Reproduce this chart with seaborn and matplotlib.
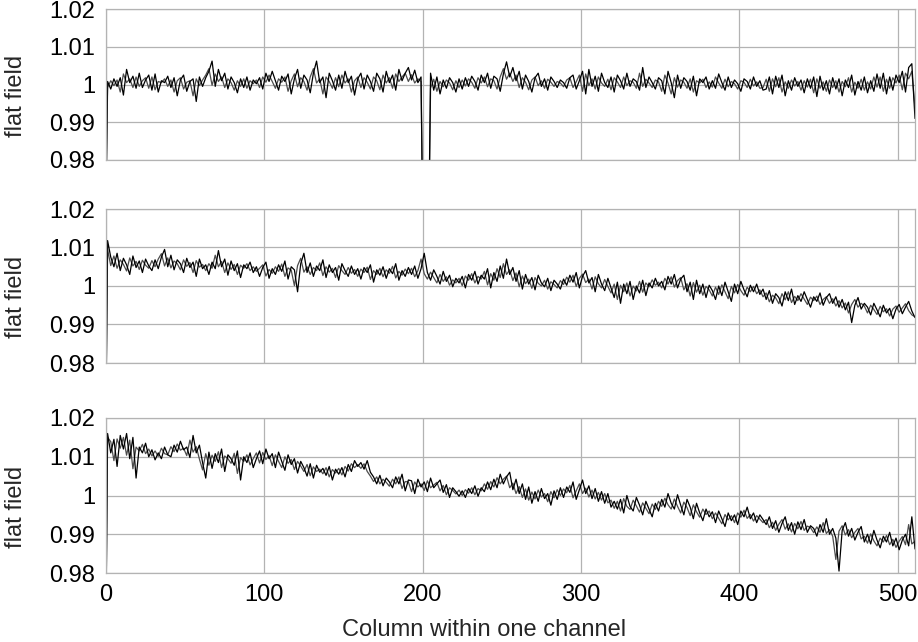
import numpy as np
import pandas as pd
import matplotlib
matplotlib.use("Agg")
import matplotlib.pyplot as plt
import seaborn as sns

# ---------------- data (every 2nd column) ----------------
# flat-field values stored as deviation from 1 in units of 1e-4
columns = [0] + list(range(1, 512, 2))

panel1_a = [-300,
    8, -12, 15, -5, 18, -28, 40, 5, 22, -10, 30, -8, 12, 25, -15, 28,
    -20, 10, 5, 22, -8, 18, -30, 12, 25, -18, 8, 15, -45, 20, -5, 18,
    35, 62, -5, 40, 10, 30, -12, 20, 5, -22, 15, -8, 20, -15, 12, 2,
    18, -12, 30, 8, 35, 10, -15, 22, 8, 28, -25, 15, 40, -10, 25, 12,
    -22, 30, 62, 5, 20, -35, 30, 10, -15, 25, -10, 35, 5, 22, -28, 15,
    30, -12, 25, 8, -18, 30, 15, -20, 35, 5, 25, -15, 40, 10, 30, 45,
    12, 38, 5, 20, -700, -700, 30, -15, 20, -25, 12, -10, 18, 5, -20, 15,
    -12, 18, -5, 22, 8, -15, 25, 5, 30, -10, 22, 15, -18, 28, 60, 20,
    45, 10, 35, -12, 25, 8, -20, 18, 30, -5, 15, -15, 20, 8, -8, 12,
    5, -10, 18, 25, -12, 10, 35, -25, 40, -5, 22, -18, 30, 5, -8, 20,
    -20, 25, 10, -12, 30, -5, 15, 8, -15, 45, -8, 20, 5, -12, 18, 10,
    -25, 35, 5, -35, 25, -10, 18, 8, -15, 22, -30, 15, 5, 20, -12, 10,
    -10, 28, 5, -15, 20, -8, 12, 2, -18, 15, 8, -12, 20, -5, 10, -15,
    -12, 20, -25, 22, -8, 25, -30, 10, -15, 18, -5, 12, -22, 15, -10, 20,
    -32, 22, -15, 10, -25, 18, -12, 15, -30, 12, -8, 25, -28, 8, -15, 20,
    -22, 10, -18, 28, -10, 30, -25, 20, -15, 25, 5, 35, -20, 45, 55, -90]

panel1_b = [-300,
    -8, 10, -3, 12, -20, 28, 5, 15, -8, 20, -5, 10, 18, -10, 20, -14,
    8, 5, 15, -5, 12, -20, 10, 18, -12, 6, 10, -30, 15, -3, 12, 25,
    42, -2, 28, 8, 20, -8, 15, 5, -15, 10, -5, 15, -10, 10, 2, 12,
    -8, 20, 6, 25, 8, -10, 15, 6, 20, -18, 10, 28, -6, 18, 8, -15,
    20, 42, 4, 15, -25, 20, 8, -10, 18, -6, 25, 4, 15, -20, 10, 20,
    -8, 18, 6, -12, 20, 10, -14, 25, 4, 18, -10, 28, 8, 20, 30, 8,
    26, 4, 15, 8, -700, -700, -10, 14, -18, 8, -6, 12, 4, -14, 10, -8,
    12, -4, 15, 6, -10, 18, 4, 20, -6, 15, 10, -12, 20, 42, 14, 30,
    8, 25, -8, 18, 6, -14, 12, 20, -3, 10, -10, 14, 6, -5, 8, 4,
    -6, 12, 18, -8, 7, 25, -18, 28, -3, 15, -12, 20, 4, -5, 14, -14,
    18, 7, -8, 20, -3, 10, 6, -10, 30, -5, 14, 4, -8, 12, 7, -18,
    25, 4, -25, 18, -7, 12, 6, -10, 15, -20, 10, 4, 14, -8, 7, -7,
    20, 4, -10, 14, -6, 8, 2, -12, 10, 6, -8, 14, -4, 7, -10, -8,
    14, -18, 15, -6, 18, -20, 7, -10, 12, -4, 8, -15, 10, -7, 14, -22,
    15, -10, 7, -18, 12, -8, 10, -20, 8, -6, 18, -20, 6, -10, 14, -15,
    7, -12, 20, -7, 20, -18, 14, -10, 18, 4, 25, -14, 30, 15, 35, -60]

panel2_a = [-300,
    118, 75, 50, 85, 40, 72, 55, 30, 78, 48, 65, 35, 70, 52, 40, 68,
    45, 75, 95, 50, 80, 42, 68, 58, 35, 72, 48, 62, 25, 70, 45, 55,
    30, 62, 45, 92, 50, 70, 28, 65, 40, 58, 22, 55, 45, 62, 35, 50,
    25, 48, 62, 20, 45, 30, 55, 38, 65, 18, 50, 42, -15, 58, 85, 35,
    60, 25, 52, 40, 68, 22, 55, 35, 48, 15, 58, 40, 25, 52, 30, 45,
    18, 48, 35, 55, 10, 42, 28, 50, 20, 45, 32, 58, 15, 40, 25, 48,
    30, 52, 20, 45, 85, 35, 15, 42, 25, 5, 38, 12, 28, -2, 20, 8,
    25, -5, 30, 15, 38, 5, 28, 18, 45, -5, 35, 12, 52, 20, 70, 30,
    48, 12, 40, -8, 30, 5, 22, -10, 28, 8, -2, 20, -12, 15, 5, -8,
    18, 2, 28, 10, 35, -5, 25, 40, 8, 22, -15, 30, 5, -12, 20, -5,
    -30, 10, -45, 5, -20, 12, -35, 0, -18, 15, -25, 8, -5, 20, 0, 12,
    -10, 25, 5, 30, -5, 18, 28, -15, 10, -35, 15, -20, 5, -30, 2, -12,
    -35, 0, -25, 10, -15, -40, 5, -20, 12, -10, -28, 2, -15, 5, -22, -8,
    -35, -12, -45, -20, -30, -52, -15, -38, -8, -48, -25, -40, -15, -35, -55, -28,
    -40, -18, -50, -30, -20, -45, -28, -55, -35, -62, -42, -95, -50, -30, -60, -45,
    -55, -75, -45, -62, -80, -50, -70, -58, -85, -60, -48, -72, -55, -40, -65, -82]

panel2_b = [-300,
    95, 53, 78, 46, 68, 56, 39, 73, 52, 64, 43, 67, 54, 46, 66, 50,
    70, 84, 52, 73, 47, 65, 58, 42, 68, 51, 61, 35, 66, 49, 56, 40,
    58, 46, 80, 50, 64, 35, 60, 43, 56, 30, 54, 46, 58, 40, 50, 38,
    46, 55, 26, 43, 33, 50, 38, 57, 25, 47, 41, 1, 53, 72, 36, 50,
    30, 48, 40, 60, 27, 50, 36, 46, 22, 53, 40, 30, 48, 33, 43, 25,
    44, 35, 49, 17, 40, 30, 46, 24, 42, 33, 51, 21, 38, 28, 44, 32,
    46, 24, 40, 70, 32, 18, 36, 22, 8, 30, 12, 24, 2, 16, 8, 20,
    1, 26, 15, 32, 8, 25, 18, 38, 3, 32, 15, 45, 22, 58, 30, 42,
    14, 34, -2, 26, 6, 18, -6, 22, 7, 0, 15, -8, 11, 4, -5, 14,
    4, 23, 10, 28, -1, 20, 31, 9, 18, -8, 24, 6, -5, 17, -1, -18,
    5, -35, 2, -15, 8, -26, 0, -13, 12, -16, 8, -2, 16, 2, 10, -5,
    20, 5, 24, -3, 14, 22, -10, 6, -26, 9, -16, 2, -24, -1, -10, -26,
    -3, -22, 3, -15, -33, -1, -18, 4, -12, -24, -3, -15, -1, -20, -10, -28,
    -18, -41, -24, -31, -46, -20, -36, -15, -43, -27, -38, -20, -34, -48, -29, -38,
    -26, -48, -35, -28, -45, -33, -52, -38, -57, -44, -70, -48, -35, -55, -45, -52,
    -70, -50, -61, -74, -53, -67, -59, -78, -60, -52, -68, -57, -46, -64, -75, -80]

panel3_a = [-300,
    160, 110, 145, 75, 155, 120, 160, 95, 150, 45, 125, 110, 135, 100, 118, 92,
    110, 95, 125, 105, 100, 130, 112, 140, 118, 125, 98, 155, 110, 130, 85, 45,
    112, 70, 108, 85, 120, 62, 105, 95, 78, 115, 40, 100, 85, 110, 72, 95,
    115, 82, 120, 95, 108, 72, 112, 88, 65, 105, 80, 95, 58, 88, 72, 50,
    82, 45, 78, 60, 70, 52, 75, 40, 68, 55, 72, 48, 80, 62, 90, 75,
    85, 68, 90, 60, 48, 30, 52, 25, 45, 35, 20, 48, 30, 55, 12, 40,
    38, 5, 42, 22, 35, 10, 45, 20, 30, 40, 8, 28, -5, 20, 10, -2,
    12, -5, 18, 5, 25, -2, 20, 10, 35, 15, 42, 20, 55, 30, 48, 60,
    15, 42, 5, 30, -10, 22, -20, 10, -15, 18, -8, 5, -25, 12, -10, 20,
    -5, 22, 8, 35, -10, 15, 40, 5, 25, -8, 18, -15, 10, -20, 5, -30,
    -15, -35, -10, -45, 0, -28, -40, -5, -25, -50, -15, -35, -55, -20, -40, -10,
    -30, 5, -20, -35, 2, -25, -50, -10, -30, -60, -20, -45, -65, -35, -55, -42,
    -70, -40, -60, -80, -45, -65, -50, -75, -40, -55, -30, -60, -45, -70, -50, -62,
    -75, -55, -85, -65, -95, -72, -55, -90, -70, -100, -68, -88, -62, -95, -78, -85,
    -105, -75, -95, -60, -100, -85, -110, -195, -90, -70, -105, -85, -115, -95, -80, -120,
    -100, -125, -90, -115, -135, -105, -120, -95, -130, -110, -140, -115, -100, -130, -55, -138]

panel3_b = [-300,
    150, 139, 90, 146, 122, 150, 104, 143, 69, 125, 115, 132, 108, 120, 102, 115,
    101, 122, 108, 105, 126, 113, 133, 117, 122, 103, 143, 112, 126, 94, 66, 108,
    78, 104, 88, 113, 72, 102, 95, 83, 109, 57, 98, 88, 105, 79, 95, 110,
    84, 111, 93, 103, 77, 105, 88, 72, 100, 83, 93, 67, 88, 76, 62, 80,
    51, 74, 62, 68, 56, 72, 48, 67, 58, 70, 53, 75, 63, 82, 72, 80,
    70, 82, 62, 50, 36, 48, 30, 42, 34, 24, 42, 30, 48, 18, 36, 35,
    10, 35, 22, 30, 13, 38, 20, 27, 34, 12, 26, 2, 20, 13, 4, 14,
    0, 15, 6, 20, 2, 18, 12, 30, 16, 36, 22, 46, 30, 42, 50, 20,
    32, 5, 23, -5, 17, -12, 9, -9, 14, -4, 5, -16, 10, -6, 15, 0,
    17, 7, 26, -6, 12, 30, 5, 19, -4, 14, -9, 8, -12, 5, -19, -12,
    -33, -15, -40, -8, -28, -36, -12, -27, -43, -19, -33, -47, -22, -36, -15, -28,
    -7, -24, -35, -9, -28, -45, -17, -31, -52, -24, -42, -56, -35, -49, -40, -60,
    -45, -59, -73, -49, -63, -52, -70, -45, -56, -38, -59, -49, -66, -52, -61, -70,
    -62, -83, -69, -90, -74, -62, -87, -73, -94, -72, -86, -67, -90, -79, -83, -96,
    -81, -95, -70, -98, -88, -105, -165, -92, -78, -102, -88, -109, -95, -85, -112, -105,
    -123, -99, -117, -130, -110, -120, -103, -127, -113, -134, -118, -106, -127, -75, -125, -118]

y_ticks = [0.98, 0.99, 1.00, 1.01, 1.02]
y_tick_labels = ["0.98", "0.99", "1", "1.01", "1.02"]
x_ticks = [0, 100, 200, 300, 400, 500]
x_tick_labels = ["0", "100", "200", "300", "400", "500"]
y_label = "flat field"
x_label = "Column within one channel"

# ---------------- style ----------------
sns.set_style("white")
plt.rcParams["font.family"] = ["Liberation Sans", "DejaVu Sans"]

GRID = "#b3b3b3"
FS = 17
fig = plt.figure(figsize=(9.18, 6.42), dpi=100)

W, H = 918, 642
left_px, right_px = 106, 915
panels_px = [(9, 160), (209, 363), (418, 573)]
panel_data = [(panel1_a, panel1_b), (panel2_a, panel2_b), (panel3_a, panel3_b)]

for i, ((top, bot), (sa, sb)) in enumerate(zip(panels_px, panel_data)):
    ax = fig.add_axes([left_px / W, 1 - bot / H, (right_px - left_px) / W, (bot - top) / H])
    df = pd.DataFrame({
        "column": columns * 2,
        "value": 1 + np.array(list(sb) + list(sa)) * 1e-4,
        "series": ["b"] * len(columns) + ["a"] * len(columns),
    })
    sns.lineplot(data=df, x="column", y="value", hue="series",
                 palette={"a": "#000000", "b": "#4d4d4d"},
                 estimator=None, legend=False, linewidth=0.9, ax=ax)
    ax.set_xlim(0, 511)
    ax.set_ylim(0.98, 1.02)
    ax.set_yticks(y_ticks)
    ax.set_yticklabels(y_tick_labels)
    ax.set_xticks(x_ticks)
    if i == 2:
        ax.set_xticklabels(x_tick_labels)
    else:
        ax.set_xticklabels([])
    ax.set_xlabel("")
    ax.set_ylabel(y_label, fontsize=FS)
    ax.yaxis.set_label_coords((27 - left_px) / (right_px - left_px), 0.5 - 11 / (bot - top))
    ax.grid(True, color=GRID, linewidth=0.9)
    ax.set_axisbelow(True)
    for s in ax.spines.values():
        s.set_color(GRID)
        s.set_linewidth(0.9)
        s.set_visible(True)
    ax.tick_params(axis="both", which="major", length=5, width=0.9, color=GRID,
                   labelsize=FS, labelcolor="black", pad=3, direction="out")

fig.text(484.5 / W, 0.5 / H, x_label, fontsize=FS, ha="center", va="bottom")

fig.savefig("out.png", dpi=100)
